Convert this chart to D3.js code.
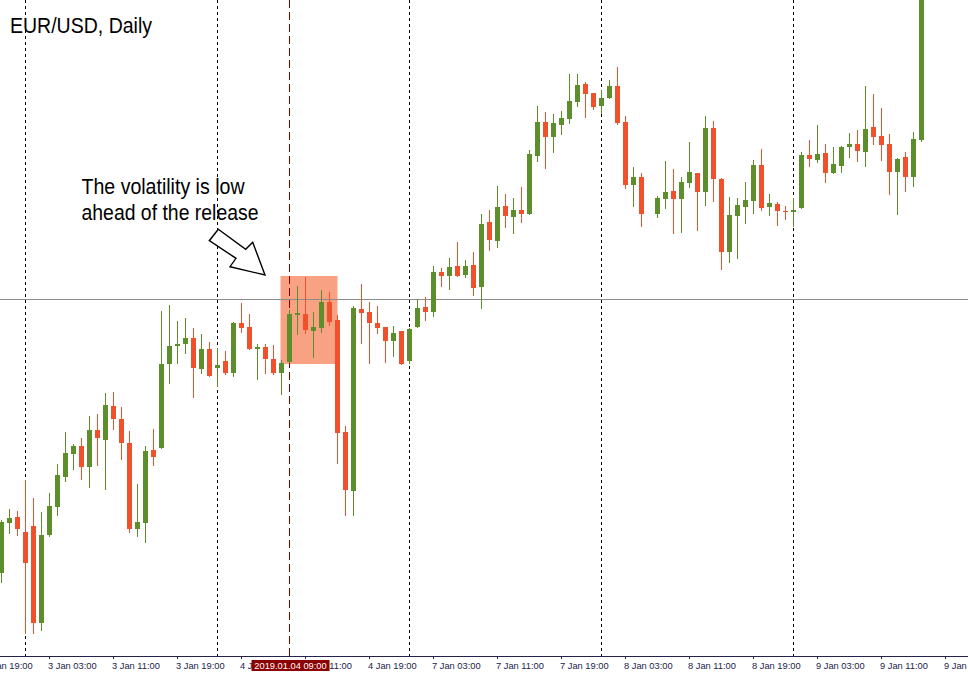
<!DOCTYPE html>
<html><head><meta charset="utf-8">
<script src="https://cdn.jsdelivr.net/npm/d3@7"></script>
<style>html,body{margin:0;padding:0;background:#fff;overflow:hidden}</style>
</head><body><svg id="c" width="968" height="675"></svg>
<script>
// ---------- DATA (EUR/USD hourly bars, 2 Jan 21:00 .. 9 Jan 16:00) ----------
const open = [
1.13318,1.13443,1.13458,1.13420,1.13435,1.13193,1.13413,1.13483,1.13558,1.13615,
1.13635,1.13583,1.13675,1.13650,1.13735,1.13703,1.13643,1.13428,1.13443,1.13625,
1.13630,1.13840,1.13885,1.13890,1.13905,1.13828,1.13878,1.13830,1.13848,1.13818,
1.13943,1.13933,1.13878,1.13883,1.13853,1.13818,1.13845,1.13963,1.13965,1.13923,
1.13930,1.13995,1.13950,1.13670,1.13523,1.13978,1.13970,1.13943,1.13933,1.13898,
1.13923,1.13848,1.13933,1.13983,1.13970,1.14070,1.14060,1.14085,1.14063,1.14088,
1.14033,1.14195,1.14148,1.14235,1.14208,1.14225,1.14215,1.14360,1.14445,1.14408,
1.14438,1.14453,1.14495,1.14540,1.14518,1.14485,1.14505,1.14535,1.14445,1.14288,
1.14308,null,1.14215,1.14253,1.14273,1.14253,1.14293,1.14318,1.14270,1.14430,
1.14303,1.14120,1.14210,1.14233,1.14248,1.14338,1.14233,1.14240,1.14223,1.14220,
1.14230,1.14363,1.14350,1.14368,1.14318,1.14335,1.14383,1.14390,1.14370,1.14433,
1.14410,1.14390,1.14320,1.14358,1.14308,1.14400];
const high = [
1.13450,1.13478,1.13473,1.13550,1.13505,1.13470,1.13518,1.13590,1.13670,1.13640,
1.13655,1.13710,1.13715,1.13768,1.13770,1.13733,1.13673,1.13540,1.13635,1.13678,
1.13973,1.13988,1.13948,1.13955,1.13930,1.13915,1.13895,1.13880,1.13873,1.13945,
1.13993,1.13965,1.13890,1.13890,1.13888,1.13850,1.13975,1.14035,1.14058,1.13970,
1.14025,1.14020,1.13963,1.13685,1.13985,1.14040,1.13995,1.13985,1.13933,1.13935,
1.13923,1.13930,1.14003,1.14008,1.14085,1.14080,1.14105,1.14145,1.14100,1.14120,
1.14215,1.14225,1.14285,1.14265,1.14255,1.14283,1.14375,1.14485,1.14470,1.14465,
1.14473,1.14565,1.14565,1.14545,1.14518,1.14525,1.14550,1.14583,1.14460,1.14333,
1.14318,null,1.14260,1.14348,1.14328,1.14308,1.14395,1.14318,1.14460,1.14448,
1.14305,1.14258,1.14255,1.14295,1.14350,1.14378,1.14265,1.14245,1.14235,1.14255,
1.14370,1.14400,1.14438,1.14390,1.14383,1.14385,1.14418,1.14425,1.14535,1.14515,
1.14480,1.14415,1.14355,1.14370,1.14420,1.14850];
const low = [
1.13295,1.13418,1.13413,1.13168,1.13168,1.13175,1.13410,1.13463,1.13548,1.13578,
1.13553,1.13533,1.13588,1.13528,1.13678,1.13603,1.13420,1.13410,1.13395,1.13588,
1.13630,1.13793,1.13843,1.13868,1.13758,1.13818,1.13810,1.13785,1.13815,1.13810,
1.13920,1.13878,1.13803,1.13818,1.13815,1.13765,1.13845,1.13915,1.13918,1.13858,
1.13920,1.13938,1.13593,1.13463,1.13463,1.13893,1.13843,1.13918,1.13845,1.13860,
1.13840,1.13843,1.13933,1.13950,1.13960,1.14035,1.14028,1.14060,1.14058,1.14013,
1.13980,1.14125,1.14133,1.14183,1.14168,1.14195,1.14215,1.14348,1.14330,1.14370,
1.14415,1.14443,1.14485,1.14458,1.14478,1.14468,1.14505,1.14440,1.14280,1.14235,
1.14185,null,1.14208,1.14230,1.14168,1.14170,1.14283,1.14175,1.14238,1.14248,
1.14078,1.14095,1.14105,1.14193,1.14218,1.14225,1.14213,1.14188,1.14203,1.14185,
1.14230,1.14335,1.14345,1.14295,1.14318,1.14320,1.14358,1.14348,1.14335,1.14390,
1.14350,1.14265,1.14215,1.14273,1.14285,1.14398];
const close = [
1.13445,1.13455,1.13428,1.13343,1.13193,1.13413,1.13485,1.13563,1.13618,1.13635,
1.13583,1.13675,1.13655,1.13738,1.13703,1.13643,1.13428,1.13445,1.13623,1.13608,
1.13840,1.13885,1.13890,1.13905,1.13830,1.13878,1.13810,1.13838,1.13818,1.13943,
1.13930,1.13878,1.13883,1.13853,1.13818,1.13843,1.13965,1.13968,1.13925,1.13933,
1.13995,1.13945,1.13668,1.13525,1.13980,1.13968,1.13943,1.13930,1.13898,1.13918,
1.13840,1.13928,1.13980,1.13970,1.14070,1.14060,1.14083,1.14060,1.14085,1.14030,
1.14190,1.14150,1.14233,1.14210,1.14225,1.14215,1.14365,1.14445,1.14408,1.14443,
1.14455,1.14498,1.14538,1.14515,1.14483,1.14505,1.14535,1.14443,1.14288,1.14308,
1.14215,null,1.14255,1.14270,1.14253,1.14295,1.14320,1.14270,1.14430,1.14303,
1.14120,1.14213,1.14238,1.14250,1.14338,1.14230,1.14243,1.14223,1.14220,1.14225,
1.14363,1.14353,1.14365,1.14318,1.14340,1.14383,1.14390,1.14373,1.14428,1.14408,
1.14388,1.14320,1.14353,1.14308,1.14403,1.14825];

// time axis (bar index of each label; bar 3 = 3 Jan 00:00)
const tickIndex = [-2,6,14,22,30,38,46,54,62,70,78,86,94,102,110,118];
const tickLabels = ["2 Jan 19:00","3 Jan 03:00","3 Jan 11:00","3 Jan 19:00","4 Jan 03:00","4 Jan 11:00",
  "4 Jan 19:00","7 Jan 03:00","7 Jan 11:00","7 Jan 19:00","8 Jan 03:00","8 Jan 11:00","8 Jan 19:00",
  "9 Jan 03:00","9 Jan 11:00","9 Jan 19:00"];
const daySeparators = [3,27,51,75,99];
const releaseIndex = 36;
const releaseLabel = "2019.01.04 09:00";
const levelPrice = 1.14003;
const boxIndex = [35,42];
const boxPrice = [1.14060,1.13840];
const title = "EUR/USD, Daily";
const noteLines = ["The volatility is low","ahead of the release"];

// ---------- CHART ----------
const W = 968, H = 675, axisY = 656;
const GREEN = "#5c8f2b", RED = "#f0502a";
const svg = d3.select("#c");
const x = d3.scaleLinear().domain([0, 115]).range([1, 921]);
const y = d3.scaleLinear().domain([1.13, 1.15]).range([700, -100]);

svg.append("defs").append("clipPath").attr("id","plot")
  .append("rect").attr("x",0).attr("y",0).attr("width",W).attr("height",axisY);
const plot = svg.append("g").attr("clip-path","url(#plot)");

// rectangle object
plot.append("rect")
  .attr("x", x(boxIndex[0]) - 0.5).attr("width", x(boxIndex[1]) - x(boxIndex[0]) + 1)
  .attr("y", Math.round(y(boxPrice[0]))).attr("height", Math.round(y(boxPrice[1])) - Math.round(y(boxPrice[0])))
  .attr("fill", "#f8a283");

// horizontal level
plot.append("line").attr("x1",0).attr("x2",W)
  .attr("y1", Math.round(y(levelPrice)) + 0.5).attr("y2", Math.round(y(levelPrice)) + 0.5)
  .attr("stroke","#8c8c8c").attr("stroke-width",1);

// day separators
plot.selectAll("line.sep").data(daySeparators).join("line").attr("class","sep")
  .attr("x1", d => x(d) + 0.5).attr("x2", d => x(d) + 0.5)
  .attr("y1", 0).attr("y2", axisY)
  .attr("stroke","#000").attr("stroke-width",1).attr("stroke-dasharray","3,3");

// release line
plot.append("line")
  .attr("x1", x(releaseIndex) + 0.5).attr("x2", x(releaseIndex) + 0.5)
  .attr("y1", 0).attr("y2", axisY)
  .attr("stroke","#800000").attr("stroke-width",1).attr("stroke-dasharray","8,4");

// candles
const bars = open.map((o,i) => ({i, o, h: high[i], l: low[i], c: close[i]})).filter(d => d.o !== null);
const cg = plot.selectAll("g.bar").data(bars).join("g").attr("class","bar");
cg.append("line")
  .attr("x1", d => x(d.i) + 0.5).attr("x2", d => x(d.i) + 0.5)
  .attr("y1", d => Math.round(y(d.h))).attr("y2", d => Math.round(y(d.l)) + 1)
  .attr("stroke", d => d.c >= d.o ? GREEN : RED).attr("stroke-width", 1);
cg.append("rect")
  .attr("x", d => x(d.i) - 2).attr("width", 5)
  .attr("y", d => Math.round(y(Math.max(d.o, d.c))))
  .attr("height", d => Math.max(1, Math.round(y(Math.min(d.o, d.c))) - Math.round(y(Math.max(d.o, d.c)))))
  .attr("fill", d => d.c >= d.o ? GREEN : RED);

// time axis
const AXIS_COL = "#22224a";
const FONT = "'Liberation Sans', Arial, sans-serif";
const ax = svg.append("g").attr("transform", `translate(0,${axisY})`)
  .call(d3.axisBottom(x).tickValues(tickIndex).tickFormat((d,i) => tickLabels[i]).tickSize(3).tickSizeOuter(0));
ax.select(".domain").remove();
ax.selectAll(".tick line").attr("stroke", AXIS_COL);
ax.selectAll(".tick text").attr("text-anchor","start").attr("x",-1.5).attr("y",13).attr("dy",0)
  .attr("fill", AXIS_COL).style("font-family", FONT).style("font-size","9.3px");
svg.append("line").attr("x1",0).attr("x2",W).attr("y1",axisY+0.5).attr("y2",axisY+0.5)
  .attr("stroke", AXIS_COL).attr("stroke-width",1);

// release time tag
const rx = x(releaseIndex) + 1.5;
svg.append("rect").attr("x", rx - 39).attr("y", 660).attr("width", 78).attr("height", 11).attr("fill","#8b0000");
svg.append("text").attr("x", rx).attr("y", 669).attr("text-anchor","middle")
  .attr("fill","#fff").style("font-family", FONT).style("font-size","9.3px").text(releaseLabel);

// title
svg.append("text").attr("x",10).attr("y",33).attr("textLength",142).attr("lengthAdjust","spacingAndGlyphs")
  .style("font-family", FONT).style("font-size","22px").attr("fill","#000").text(title);

// annotation
const noteLen = [163, 177];
noteLines.forEach((t,k) => {
  svg.append("text").attr("x",81.5).attr("y",194 + k*26).attr("textLength",noteLen[k]).attr("lengthAdjust","spacingAndGlyphs")
    .style("font-family", FONT).style("font-size","22px").attr("fill","#000").text(t);
});

// outline arrow
const arrow = [[218.3,229.3],[245.7,249.3],[252.7,242.3],[265,275],[230,266.7],[236,258.3],[209.3,240.7]];
svg.append("path").attr("d", d3.line()(arrow) + "Z")
  .attr("fill","#fff").attr("stroke","#000").attr("stroke-width",1.4).attr("stroke-linejoin","miter");
</script></body></html>
